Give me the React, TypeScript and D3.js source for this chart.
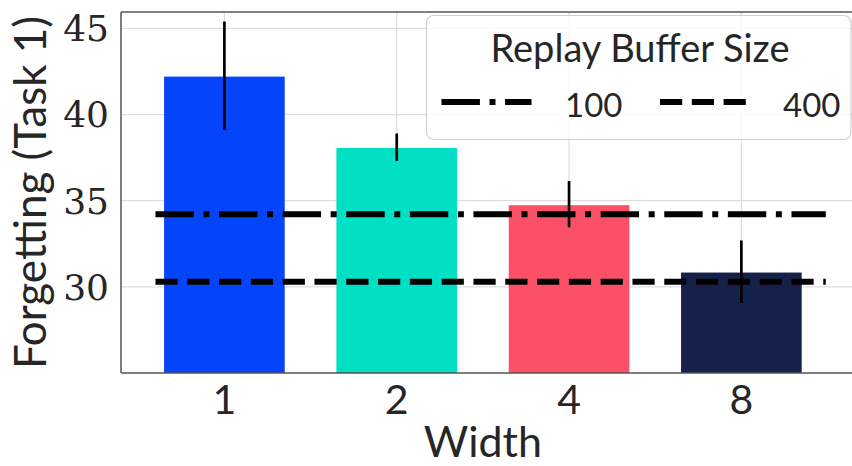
import React from "react";
import * as d3 from "d3";

// Network widths on the x axis and the forgetting measured for each
const widths = ["1", "2", "4", "8"];
const forgetting = [42.2, 38.06, 34.74, 30.83];
const errLow = [39.1, 37.3, 33.46, 29.06];
const errHigh = [45.4, 38.9, 36.14, 32.69];
const barColors = ["#0444fb", "#00e0c4", "#fb5068", "#16214b"];

// Reference levels for the two replay buffer sizes
const bufferSizes = ["100", "400"];
const bufferForgetting = [34.22, 30.3];
const bufferDash = ["38.4 9.6 6 9.6", "22.2 9.6"];

const yTicks = [30, 35, 40, 45];

const W = 852;
const H = 466;
const plot = { left: 121, top: 12, bottom: 373, right: 862 };

const sans = "Lato, 'Open Sans', 'DejaVu Sans', sans-serif";
const serif = "'DejaVu Serif', 'Liberation Serif', serif";
const ink = "#262626";

export default function App() {
  const x = d3.scaleLinear().domain([-0.6, 3.7]).range([plot.left, plot.right]);
  const y = d3.scaleLinear().domain([25, 45.95]).range([plot.bottom, plot.top]);
  const barW = x(0.7) - x(0);

  return (
    <svg
      width={W}
      height={H}
      style={{ position: "fixed", left: 0, top: 0, background: "#fff" }}
    >
      <defs>
        <clipPath id="plotClip">
          <rect x={plot.left} y={plot.top} width={plot.right - plot.left} height={plot.bottom - plot.top} />
        </clipPath>
      </defs>

      {/* grid */}
      <g stroke="#dedede" strokeWidth={1.2}>
        {yTicks.map((t) => (
          <line key={"gy" + t} x1={plot.left} x2={plot.right} y1={y(t)} y2={y(t)} />
        ))}
        {widths.map((w, i) => (
          <line key={"gx" + w} x1={x(i)} x2={x(i)} y1={plot.top} y2={plot.bottom} />
        ))}
      </g>

      {/* bars */}
      <g clipPath="url(#plotClip)">
        {forgetting.map((v, i) => (
          <rect
            key={"bar" + i}
            x={x(i) - barW / 2}
            y={y(v)}
            width={barW}
            height={y(25) - y(v)}
            fill={barColors[i]}
          />
        ))}
      </g>

      {/* buffer reference lines */}
      {bufferForgetting.map((v, k) => (
        <line
          key={"buf" + k}
          x1={x(-0.4)}
          x2={x(3.49)}
          y1={y(v)}
          y2={y(v)}
          stroke="#000"
          strokeWidth={6}
          strokeDasharray={bufferDash[k]}
        />
      ))}

      {/* error bars */}
      {forgetting.map((_, i) => (
        <line
          key={"err" + i}
          x1={x(i)}
          x2={x(i)}
          y1={y(errLow[i])}
          y2={y(errHigh[i])}
          stroke="#000"
          strokeWidth={2.7}
        />
      ))}

      {/* spines */}
      <g stroke="#555" strokeWidth={1.5} fill="none">
        <line x1={plot.left} x2={plot.left} y1={plot.top} y2={plot.bottom} />
        <line x1={plot.left} x2={plot.right} y1={plot.top} y2={plot.top} />
        <line x1={plot.left} x2={plot.right} y1={plot.bottom} y2={plot.bottom} />
      </g>

      {/* y tick labels */}
      {yTicks.map((t) => (
        <text
          key={"yt" + t}
          x={109}
          y={y(t)}
          dy="0.36em"
          textAnchor="end"
          fontFamily={serif}
          fontSize={36}
          fontWeight={300}
          fill={ink}
        >
          {t}
        </text>
      ))}

      {/* x tick labels */}
      {widths.map((w, i) => (
        <text
          key={"xt" + w}
          x={x(i)}
          y={414}
          textAnchor="middle"
          style={{ fontFamily: sans, fontSize: 41 }}
          fill={ink}
        >
          {w}
        </text>
      ))}

      {/* axis titles */}
      <text
        x={x(1.5)}
        y={457}
        textAnchor="middle"
        style={{ fontFamily: sans, fontSize: 43 }}
        fill={ink}
      >
        Width
      </text>
      <text
        transform={`translate(46, ${(plot.top + plot.bottom) / 2}) rotate(-90)`}
        textAnchor="middle"
        style={{ fontFamily: sans, fontSize: 44 }}
        fill={ink}
      >
        Forgetting (Task 1)
      </text>

      {/* legend */}
      <g>
        <rect
          x={426.5}
          y={15.5}
          width={424.5}
          height={124}
          rx={7}
          fill="#fff"
          fillOpacity={0.8}
          stroke="#d0d0d0"
          strokeWidth={1.2}
        />
        <text
          x={640}
          y={62}
          textAnchor="middle"
          style={{ fontFamily: sans, fontSize: 38 }}
          fill={ink}
        >
          Replay Buffer Size
        </text>
        {bufferSizes.map((s, k) => {
          const hx = k === 0 ? 441.5 : 660;
          const tx = k === 0 ? 565 : 783;
          return (
            <g key={"leg" + s}>
              <line
                x1={hx}
                x2={hx + 90}
                y1={102}
                y2={102}
                stroke="#000"
                strokeWidth={6}
                strokeDasharray={bufferDash[k]}
              />
              <text x={tx} y={117} style={{ fontFamily: sans, fontSize: 33 }} fill={ink}>
                {s}
              </text>
            </g>
          );
        })}
      </g>
    </svg>
  );
}
